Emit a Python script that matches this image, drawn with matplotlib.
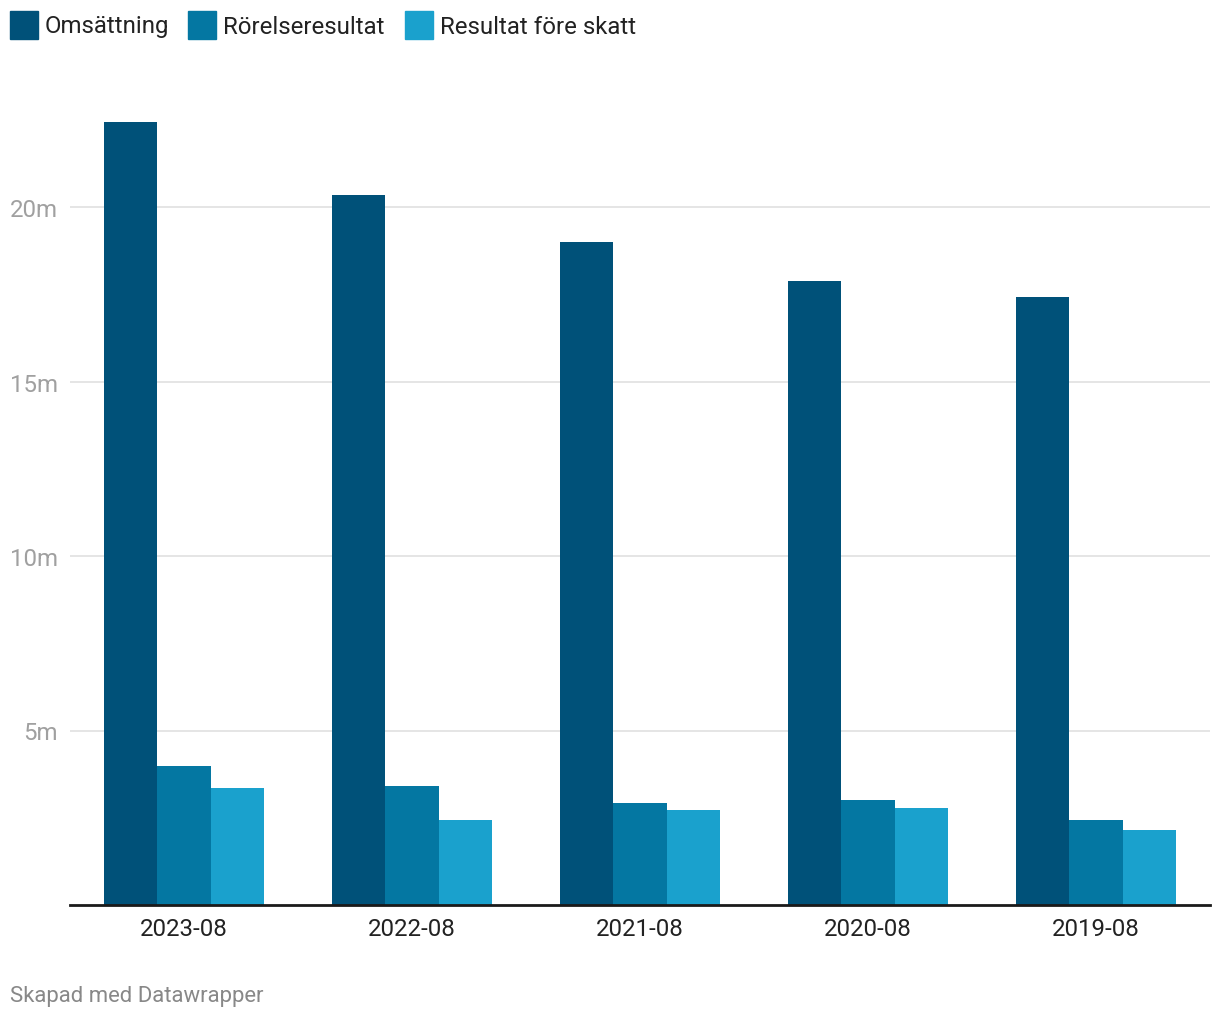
import numpy as np
import matplotlib
matplotlib.use("Agg")
import matplotlib.pyplot as plt
from matplotlib.patches import Rectangle

plt.rcParams['font.family'] = ['Roboto', 'DejaVu Sans']

# data (in millions)
years = ["2023-08", "2022-08", "2021-08", "2020-08", "2019-08"]
series_names = ["Omsättning", "Rörelseresultat", "Resultat före skatt"]
omsattning = [22.44, 20.34, 19.0, 17.88, 17.42]
rorelseresultat = [3.98, 3.41, 2.92, 3.01, 2.44]
resultat_fore_skatt = [3.35, 2.44, 2.72, 2.78, 2.15]
yticks = [5, 10, 15, 20]
ytick_labels = ["5m", "10m", "15m", "20m"]

colors = ["#005179", "#0477a2", "#1aa1cd"]

W, H = 1220, 1020
fig = plt.figure(figsize=(W / 100, H / 100), dpi=100)
ax = fig.add_axes([70 / W, (H - 906) / H, 1140 / W, 806 / H])

x = np.arange(len(years))
bw = 0.7 / 3
for i, vals in enumerate([omsattning, rorelseresultat, resultat_fore_skatt]):
    ax.bar(x + (i - 1) * bw, vals, width=bw, color=colors[i], zorder=2, linewidth=0)

ax.set_xlim(-0.5, len(years) - 0.5)
ax.set_ylim(0, 806 / 34.9)
ax.set_xticks(x)
ax.set_xticklabels(years, fontsize=17.3, color="#222222")
ax.set_yticks(yticks)
ax.set_yticklabels(ytick_labels, fontsize=17.3, color="#a0a0a0")
ax.tick_params(axis="y", length=0, pad=8.6)
ax.tick_params(axis="x", length=0, pad=9)
ax.grid(axis="y", color="#e0e0e0", linewidth=1.2, zorder=0)
for s in ["top", "right", "left"]:
    ax.spines[s].set_visible(False)
ax.spines["bottom"].set_color("#1a1a1a")
ax.spines["bottom"].set_linewidth(2)
ax.spines["bottom"].set_zorder(3)

# legend
leg_x = [10, 188, 405]
for i, name in enumerate(series_names):
    fig.patches.append(Rectangle((leg_x[i] / W, (H - 40) / H), 28 / W, 28 / H,
                                 transform=fig.transFigure, color=colors[i]))
    fig.text((leg_x[i] + 35) / W, (H - 27) / H, name, fontsize=17.3,
             color="#222222", va="center", ha="left")

fig.text(10 / W, (H - 997) / H, "Skapad med Datawrapper", fontsize=15.9,
         color="#888888", va="center", ha="left")

fig.savefig("out.png", dpi=100)
